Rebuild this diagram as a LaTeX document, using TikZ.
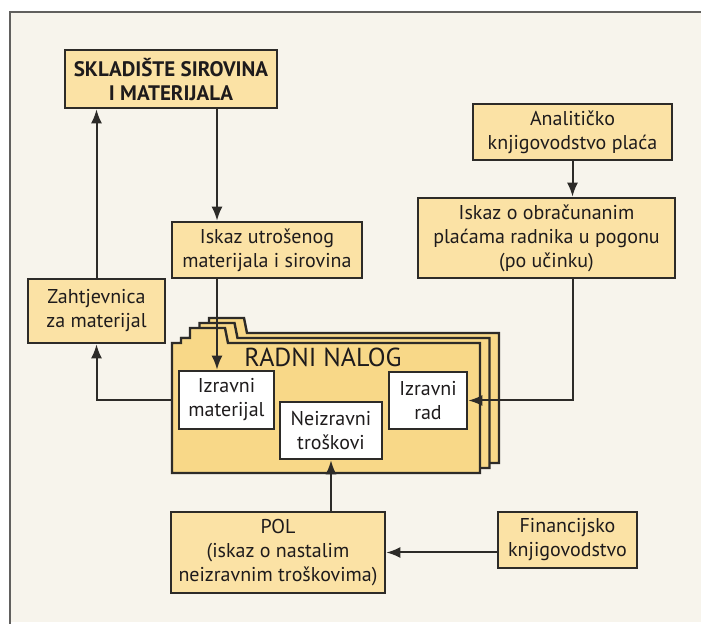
\documentclass[tikz,border=0pt]{standalone}
\usepackage{fontspec}
\setmainfont{PT Sans}
\usetikzlibrary{arrows.meta,positioning}
\definecolor{nlframe}{RGB}{45,43,40}
\definecolor{nlpaper}{RGB}{247,244,236}
\definecolor{nlbox}{RGB}{251,226,165}
\definecolor{nlfolder}{RGB}{248,216,136}
\definecolor{nltext}{RGB}{30,27,28}
\tikzstyle{box} = [draw=nlframe, line width=1.3pt, fill=nlbox, align=center, inner sep=0pt, text=nltext, font=\fontsize{10}{12}\selectfont]
\tikzstyle{inbox} = [box, fill=white]
\tikzstyle{arrow} = [line width=1pt, ->, >={Latex[length=7pt,width=5.5pt]}, color=nlframe]
\tikzstyle{folder} = [draw=nlframe, line width=1.2pt, fill=nlfolder]
% one sheet of the work order, shifted by (#1,#2)
\newcommand{\nalogsheet}[2]{%
  \draw[folder, shift={(#1,#2)}] (172,473) -- (172,343) -- (181,343) -- (181,338) -- (190,338) -- (190,328)
    -- (225,328) -- (228,343) -- (480,343) -- (480,473) -- cycle;}

\begin{document}
\begin{tikzpicture}[x=0.5pt, y=-0.5pt]
    \useasboundingbox (0,0) rectangle (701,624);
    \fill[nlpaper] (10,12) rectangle (701,622);
    \draw[color=nlframe!75, line width=1.2pt] (10,624) -- (10,12) -- (701,12);

    % work order stack
    \nalogsheet{19}{-10}
    \nalogsheet{9.5}{-5}
    \nalogsheet{0}{0}
    \node[text=nltext, font=\fontsize{13}{14}\selectfont] (nalog) at (323,357) {RADNI NALOG};
    \coordinate (nalogW) at (172,400);
    \coordinate (feed) at (217,300);

    \node[box, minimum width=106pt, minimum height=29pt, font=\bfseries\fontsize{10.5}{12}\selectfont] (sklad) at (171,79) {SKLADIŠTE SIROVINA\\I MATERIJALA};
    \node[box, minimum width=95pt, minimum height=28pt] (utros) at (267,250) {Iskaz utrošenog\\materijala i sirovina};
    \node[box, minimum width=68.5pt, minimum height=32pt] (zaht) at (96.5,311) {Zahtjevnica\\za materijal};
    \node[box, minimum width=99.5pt, minimum height=28pt] (anal) at (572.5,132) {Analitičko\\knjigovodstvo plaća};
    \node[box, minimum width=128.5pt, minimum height=40pt] (obrac) at (546.5,238) {Iskaz o obračunanim\\plaćama radnika u pogonu\\(po učinku)};
    \node[inbox, minimum width=47.5pt, minimum height=29pt] (mat) at (226.5,400) {Izravni\\materijal};
    \node[inbox, minimum width=51pt, minimum height=28.5pt] (trosk) at (331,430.5) {Neizravni\\troškovi};
    \node[inbox, minimum width=39pt, minimum height=28.5pt] (rad) at (428,400.5) {Izravni\\rad};
    \node[box, minimum width=107pt, minimum height=40.5pt] (pol) at (278,552.5) {POL\\(iskaz o nastalim\\neizravnim troškovima)};
    \node[box, minimum width=69.5pt, minimum height=28pt] (fin) at (567.5,540) {Financijsko\\knjigovodstvo};

    \draw[arrow] (sklad.south -| feed) -- (utros.north -| feed);
    \draw[arrow] (utros.south -| feed) -- (mat.north -| feed);
    \draw[arrow] (zaht.north) -- (zaht.north |- sklad.south);
    \draw[arrow] (nalogW) -| (zaht.south);
    \draw[arrow] (anal.south) -- (anal.south |- obrac.north);
    \draw[arrow] (anal.south |- obrac.south) |- (rad.east);
    \draw[arrow] (trosk.south |- pol.north) -- (trosk.south);
    \draw[arrow] (fin.west |- pol.east) -- (pol.east);
\end{tikzpicture}
\end{document}
